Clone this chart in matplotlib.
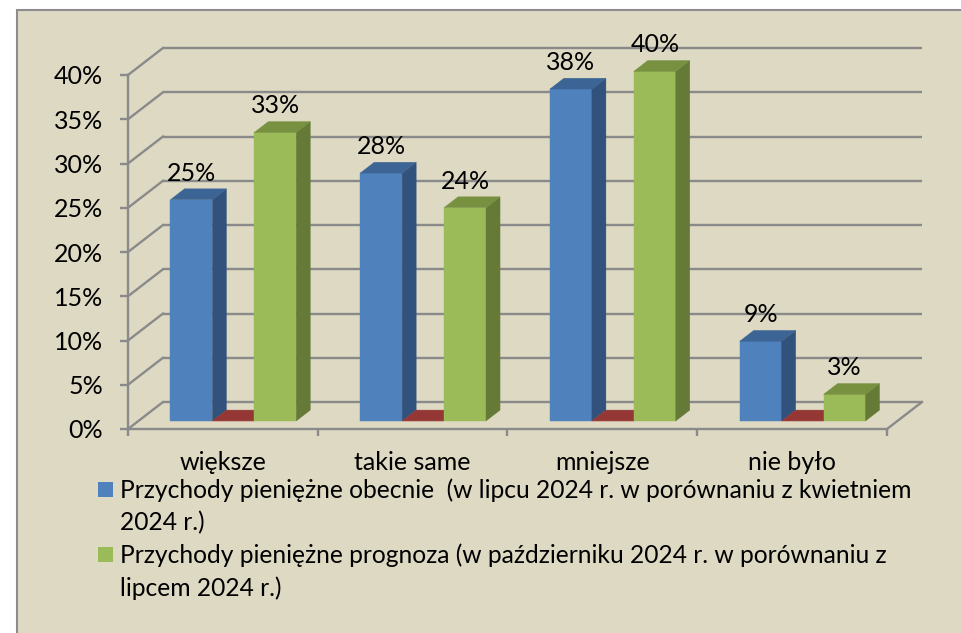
import matplotlib
matplotlib.use('Agg')
import matplotlib.pyplot as plt
from matplotlib.patches import Polygon, Rectangle
import numpy as np

categories = ['większe', 'takie same', 'mniejsze', 'nie było']
obecnie = [25.0, 28.0, 37.5, 9.0]
zero_series = [0.0, 0.0, 0.0, 0.0]
prognoza = [32.6, 24.1, 39.5, 3.0]
legend_labels = [
    'Przychody pieniężne obecnie  (w lipcu 2024 r. w porównaniu z kwietniem\n2024 r.)',
    'Przychody pieniężne prognoza (w październiku 2024 r. w porównaniu z\nlipcem 2024 r.)',
]
yticks = list(range(0, 41, 5))

# front, side, top colours
BLUE = ('#4F81BD', '#30527C', '#3C6494')
RED = ('#C0504D', '#7E2F2D', '#943735')
GREEN = ('#9BBB59', '#667A37', '#779141')
BG = '#DDD9C3'
GRID = '#8A8A8A'
FONT = 'Lato'
FS = 18
FS_LEG = 17.7

W, H = 962, 633
DEPTH_PX = np.array([35.0, 27.0])
BAR_W = 0.221
Z0, Z1 = 0.3, 0.7

plt.rcParams['font.family'] = [FONT, 'DejaVu Sans']

fig = plt.figure(figsize=(W / 100, H / 100), dpi=100, facecolor='white')
fig.add_artist(Rectangle((17 / W, -0.05), 1.1, (H - 10) / H + 0.05,
                         transform=fig.transFigure, facecolor=BG,
                         edgecolor='#8C8C8C', lw=1.5, zorder=0))

ax = fig.add_axes([128 / W, (H - 429) / H, (887 - 128) / W, (429 - 75) / H])
ax.set_facecolor('none')
ax.set_xlim(0, 4)
ax.set_ylim(0, 40)

# depth vector in data units
o = ax.transData.transform((0, 0))
ddx, ddy = ax.transData.inverted().transform(o + DEPTH_PX)


def pt(x, y, z):
    return (x + z * ddx, y + z * ddy)


# back wall gridlines and side wall diagonals
for v in yticks:
    ax.plot(*zip(pt(0, v, 1), pt(4, v, 1)), color=GRID, lw=1.7, zorder=1,
            clip_on=False, solid_capstyle='butt')
    ax.plot(*zip(pt(0, v, 0), pt(0, v, 1)), color=GRID, lw=1.7, zorder=1,
            clip_on=False)
ax.plot(*zip(pt(4, 0, 0), pt(4, 0, 1)), color=GRID, lw=1.7, zorder=1,
        clip_on=False)


def bar3d(xc, v, cols, zo):
    x0, x1 = xc - BAR_W / 2, xc + BAR_W / 2
    front = [pt(x0, 0, Z0), pt(x1, 0, Z0), pt(x1, v, Z0), pt(x0, v, Z0)]
    side = [pt(x1, 0, Z0), pt(x1, 0, Z1), pt(x1, v, Z1), pt(x1, v, Z0)]
    top = [pt(x0, v, Z0), pt(x1, v, Z0), pt(x1, v, Z1), pt(x0, v, Z1)]
    for poly, c in zip((front, side, top), cols):
        ax.add_patch(Polygon(poly, closed=True, facecolor=c, edgecolor=c,
                             lw=0.3, zorder=zo, clip_on=False))


series = [(obecnie, BLUE, True), (zero_series, RED, False), (prognoza, GREEN, True)]
for i, cat in enumerate(categories):
    for j, (vals, cols, lab) in enumerate(series):
        xc = i + 0.5 + (j - 1) * BAR_W
        v = vals[i]
        bar3d(xc, v, cols, 3 + j)
        if lab:
            ax.annotate(f'{v:.0f}%', xy=pt(xc, v, Z0), xytext=(0, 19),
                        textcoords='offset pixels', ha='center', va='baseline',
                        fontsize=FS, color='black', annotation_clip=False,
                        zorder=10)

# axes
for s in ('top', 'right'):
    ax.spines[s].set_visible(False)
for s in ('left', 'bottom'):
    ax.spines[s].set_color(GRID)
    ax.spines[s].set_linewidth(1.7)
    ax.spines[s].set_zorder(2)
ax.set_yticks(yticks)
ax.set_yticklabels([f'{v}%' for v in yticks])
ax.tick_params(axis='y', length=6, width=1.7, color=GRID, pad=12,
               labelsize=FS)
ax.set_xticks(range(5))
ax.set_xticklabels([])
ax.tick_params(axis='x', which='major', length=5, width=1.7, color=GRID)
ax.set_xticks(np.arange(len(categories)) + 0.5, minor=True)
ax.set_xticklabels(categories, minor=True)
ax.tick_params(axis='x', which='minor', length=0, pad=16, labelsize=FS)

# legend
for k, (lab, cols) in enumerate(zip(legend_labels, (BLUE, GREEN))):
    ytop = 482 + k * 65
    fig.add_artist(Rectangle((98 / W, (H - ytop - 15) / H), 15 / W, 15 / H,
                             transform=fig.transFigure, facecolor=cols[0],
                             edgecolor='none', zorder=5))
    for n, line in enumerate(lab.split('\n')):
        fig.text(120 / W, (H - ytop - 16 - n * 32.5) / H, line,
                 fontsize=FS_LEG, ha='left', va='baseline', zorder=5)

fig.savefig('out.png', dpi=100, facecolor='white')
